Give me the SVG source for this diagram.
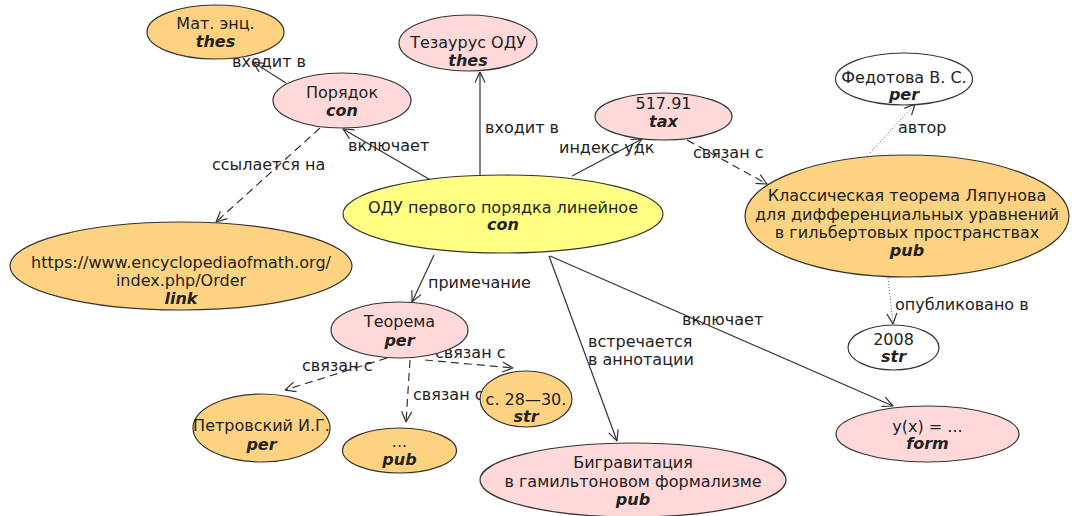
<svg xmlns="http://www.w3.org/2000/svg" width="1072" height="516" viewBox="0 0 1072 516">
<defs>
<style>
.n{stroke:#333;stroke-width:1.2}
.o{fill:#FDD381}
.p{fill:#FFD9D9}
.y{fill:#FFFF84}
.w{fill:#FFFFFF}
text{font-family:"DejaVu Sans","Liberation Sans",sans-serif;font-size:16px;fill:#222}
.c{text-anchor:middle}
.t{font-weight:bold;font-style:italic}
.e{fill:none;stroke:#333;stroke-width:1.2}
.d{stroke-dasharray:8,5}
.s{stroke-dasharray:1,2;stroke:#555;stroke-width:1}
</style>
<marker id="a" viewBox="0 0 12 12" markerWidth="12" markerHeight="12" refX="11.5" refY="6" orient="auto" markerUnits="userSpaceOnUse">
<path d="M1,1 L11.5,6 L1,11" fill="none" stroke="#333" stroke-width="1.2" stroke-dasharray="none"/>
</marker>
</defs>
<g id="connectors">
<line class="e" x1="286" y1="83" x2="253" y2="62" marker-end="url(#a)"/>
<line class="e" x1="434" y1="182" x2="343" y2="129" marker-end="url(#a)"/>
<line class="e d" x1="320" y1="128" x2="216" y2="222" marker-end="url(#a)"/>
<line class="e" x1="480" y1="175" x2="480" y2="72" marker-end="url(#a)"/>
<line class="e" x1="572" y1="176" x2="642" y2="139" marker-end="url(#a)"/>
<line class="e d" x1="687" y1="140" x2="767" y2="184" marker-end="url(#a)"/>
<line class="e s" x1="870" y1="153" x2="915" y2="104" marker-end="url(#a)"/>
<line class="e s" x1="888" y1="278" x2="893" y2="324" marker-end="url(#a)"/>
<line class="e" x1="434" y1="255" x2="412" y2="302" marker-end="url(#a)"/>
<line class="e" x1="549" y1="256" x2="617" y2="441" marker-end="url(#a)"/>
<line class="e" x1="550" y1="256" x2="893" y2="406" marker-end="url(#a)"/>
<line class="e d" x1="387" y1="358" x2="285" y2="390" marker-end="url(#a)"/>
<line class="e d" x1="410" y1="360" x2="406" y2="422" marker-end="url(#a)"/>
<line class="e d" x1="425" y1="360" x2="513" y2="368" marker-end="url(#a)"/>
<text x="232" y="67">входит в</text>
<text x="348" y="151">включает</text>
<text x="212" y="170">ссылается на</text>
<text x="485" y="133">входит в</text>
<text x="559" y="153">индекс удк</text>
<text x="693" y="158">связан с</text>
<text x="898" y="133">автор</text>
<text x="895" y="310">опубликовано в</text>
<text x="428" y="288">примечание</text>
<text x="588" y="347">встречается</text>
<text x="588" y="365">в аннотации</text>
<text x="682" y="325">включает</text>
<text x="302" y="371">связан с</text>
<text x="413" y="400">связан с</text>
<text x="435" y="358">связан с</text>
</g>
<g id="mat">
<ellipse class="n o" cx="215.5" cy="32" rx="68.5" ry="27"/>
<text class="c" x="215.5" y="29">Мат. энц.</text>
<text class="c t" x="215.5" y="47">thes</text>
</g>
<g id="tezaurus">
<ellipse class="n p" cx="468" cy="43" rx="69" ry="28"/>
<text class="c" x="468" y="48">Тезаурус ОДУ</text>
<text class="c t" x="468" y="66">thes</text>
</g>
<g id="poryadok">
<ellipse class="n p" cx="342" cy="100.5" rx="69" ry="27.5"/>
<text class="c" x="342" y="98">Порядок</text>
<text class="c t" x="342" y="116">con</text>
</g>
<g id="udk">
<ellipse class="n p" cx="663.5" cy="116.5" rx="68.5" ry="23.5"/>
<text class="c" x="663.5" y="109">517.91</text>
<text class="c t" x="663.5" y="127">tax</text>
</g>
<g id="fedotova">
<ellipse class="n w" cx="904" cy="79" rx="68.5" ry="26"/>
<text class="c" x="904" y="83">Федотова В. С.</text>
<text class="c t" x="904" y="100">per</text>
</g>
<g id="odu">
<ellipse class="n y" cx="503" cy="214" rx="160" ry="39"/>
<text class="c" x="503" y="213">ОДУ первого порядка линейное</text>
<text class="c t" x="503" y="230">con</text>
</g>
<g id="lyapunov">
<ellipse class="n o" cx="907" cy="216" rx="162" ry="61"/>
<text class="c" x="907" y="201">Классическая теорема Ляпунова</text>
<text class="c" x="907" y="220">для дифференциальных уравнений</text>
<text class="c" x="907" y="238">в гильбертовых пространствах</text>
<text class="c t" x="907" y="256">pub</text>
</g>
<g id="link">
<ellipse class="n o" cx="181" cy="266" rx="171" ry="44"/>
<text class="c" x="181" y="268">https://www.encyclopediaofmath.org/</text>
<text class="c" x="181" y="286">index.php/Order</text>
<text class="c t" x="181" y="304">link</text>
</g>
<g id="teorema">
<ellipse class="n p" cx="399.5" cy="330" rx="68.5" ry="28"/>
<text class="c" x="399.5" y="327">Теорема</text>
<text class="c t" x="399.5" y="346">per</text>
</g>
<g id="petrovsky">
<ellipse class="n o" cx="261.5" cy="428" rx="68.5" ry="34"/>
<text class="c" x="261.5" y="431">Петровский И.Г.</text>
<text class="c t" x="261.5" y="450">per</text>
</g>
<g id="dots">
<ellipse class="n o" cx="399.5" cy="450.5" rx="57" ry="22.5"/>
<text class="c" x="399.5" y="447">...</text>
<text class="c t" x="399.5" y="465">pub</text>
</g>
<g id="pages">
<ellipse class="n o" cx="526" cy="399" rx="46" ry="28"/>
<text class="c" x="526" y="405">с. 28—30.</text>
<text class="c t" x="526" y="422">str</text>
</g>
<g id="bigrav">
<ellipse class="n p" cx="633" cy="480" rx="153" ry="37"/>
<text class="c" x="633" y="468">Бигравитация</text>
<text class="c" x="633" y="487">в гамильтоновом формализме</text>
<text class="c t" x="633" y="505">pub</text>
</g>
<g id="year">
<ellipse class="n w" cx="893.5" cy="347.5" rx="45.5" ry="22.5"/>
<text class="c" x="893.5" y="345">2008</text>
<text class="c t" x="893.5" y="362">str</text>
</g>
<g id="formula">
<ellipse class="n p" cx="927.5" cy="434" rx="91.5" ry="28"/>
<text class="c" x="927.5" y="432">y(x) = ...</text>
<text class="c t" x="927.5" y="449">form</text>
</g>
</svg>
